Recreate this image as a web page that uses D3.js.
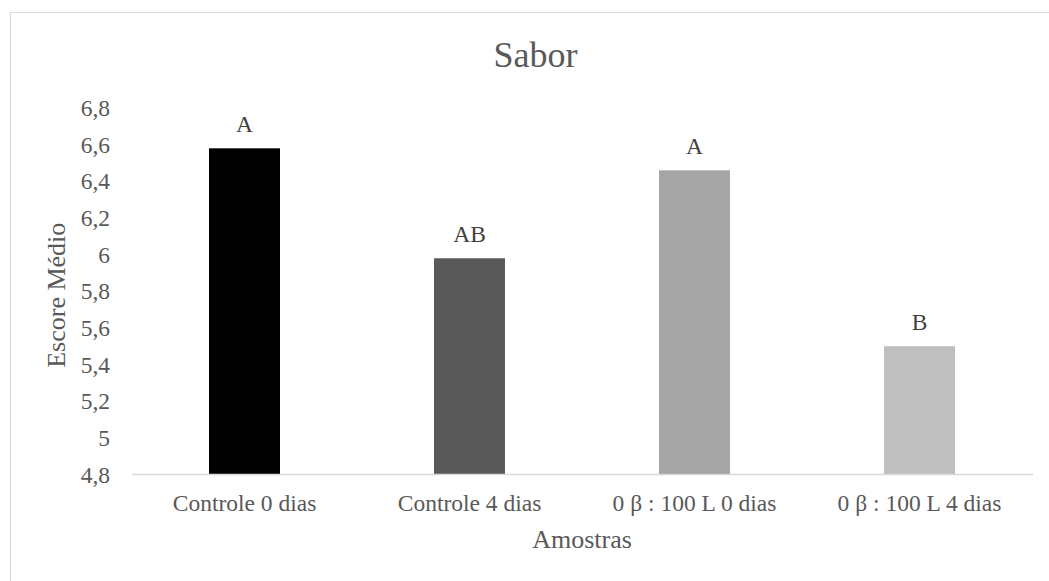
<!DOCTYPE html>
<html>
<head>
<meta charset="utf-8">
<script src="https://cdn.jsdelivr.net/npm/d3@7"></script>
<style>
  html, body { margin: 0; padding: 0; background: #fff; }
  svg { display: block; }
</style>
</head>
<body>
<svg id="chart" width="1049" height="581"></svg>
<script>
const categories = ["Controle 0 dias", "Controle 4 dias", "0 β : 100 L 0 dias", "0 β : 100 L 4 dias"];
const values = [6.58, 5.98, 6.46, 5.50];
const letters = ["A", "AB", "A", "B"];
const barColors = ["#000000", "#595959", "#a5a5a5", "#bfbfbf"];
const yTicks = [4.8, 5.0, 5.2, 5.4, 5.6, 5.8, 6.0, 6.2, 6.4, 6.6, 6.8];
const titleText = "Sabor";
const xTitle = "Amostras";
const yTitle = "Escore Médio";

const W = 1049, H = 581;
const plot = { left: 132, right: 1032, top: 108, bottom: 474.5 };
const font = "'Liberation Serif', 'Times New Roman', serif";
const textColor = "#595959";

const svg = d3.select("#chart");

// outer frame
svg.append("rect")
  .attr("x", 10.5).attr("y", 12.5)
  .attr("width", 1100).attr("height", 700)
  .attr("fill", "#fff")
  .attr("stroke", "#d9d9d9").attr("stroke-width", 1);

const x = d3.scaleBand()
  .domain(categories)
  .range([plot.left, plot.right])
  .paddingInner(0.6844)
  .paddingOuter(0.3422);

const y = d3.scaleLinear()
  .domain([4.8, 6.8])
  .range([plot.bottom, plot.top]);

const loc = d3.formatLocale({ decimal: ",", thousands: ".", grouping: [3], currency: ["", ""] });
const fmt = loc.format(".2~f");

// title
svg.append("text")
  .attr("x", 535.5).attr("y", 67)
  .attr("text-anchor", "middle")
  .attr("font-family", font).attr("font-size", 36)
  .attr("fill", textColor)
  .text(titleText);

// y axis (labels only)
const yAxis = d3.axisLeft(y).tickValues(yTicks).tickFormat(fmt).tickSize(0).tickPadding(0);
const gy = svg.append("g").attr("transform", `translate(110,0)`).call(yAxis);
gy.select(".domain").remove();
gy.selectAll("text")
  .attr("font-family", font).attr("font-size", 23.5)
  .attr("fill", textColor);

// bars
svg.append("g").selectAll("rect")
  .data(values)
  .join("rect")
  .attr("x", (d, i) => x(categories[i]))
  .attr("y", d => y(d))
  .attr("width", x.bandwidth())
  .attr("height", d => y(4.8) - y(d))
  .attr("fill", (d, i) => barColors[i]);

// x axis
const xAxis = d3.axisBottom(x).tickSize(0).tickPadding(0);
const gx = svg.append("g").attr("transform", `translate(0,${plot.bottom})`).call(xAxis);
gx.select(".domain")
  .attr("stroke", "#d9d9d9").attr("stroke-width", 1.3)
  .attr("d", `M${plot.left},0H${plot.right + 1}`);
gx.selectAll("text")
  .attr("font-family", font).attr("font-size", 23.5)
  .attr("fill", textColor)
  .attr("dy", null)
  .attr("y", 36.5);

// data labels
svg.append("g").selectAll("text")
  .data(values)
  .join("text")
  .attr("x", (d, i) => x(categories[i]) + x.bandwidth() / 2)
  .attr("y", d => y(d) - 16.5)
  .attr("text-anchor", "middle")
  .attr("font-family", font).attr("font-size", 23.5)
  .attr("fill", "#404040")
  .text((d, i) => letters[i]);

// axis titles
svg.append("text")
  .attr("x", (plot.left + plot.right) / 2).attr("y", 548)
  .attr("text-anchor", "middle")
  .attr("font-family", font).attr("font-size", 26)
  .attr("fill", textColor)
  .text(xTitle);

svg.append("text")
  .attr("transform", `translate(65,${(plot.top + plot.bottom) / 2 + 4}) rotate(-90)`)
  .attr("text-anchor", "middle")
  .attr("font-family", font).attr("font-size", 26)
  .attr("fill", textColor)
  .text(yTitle);
</script>
</body>
</html>
